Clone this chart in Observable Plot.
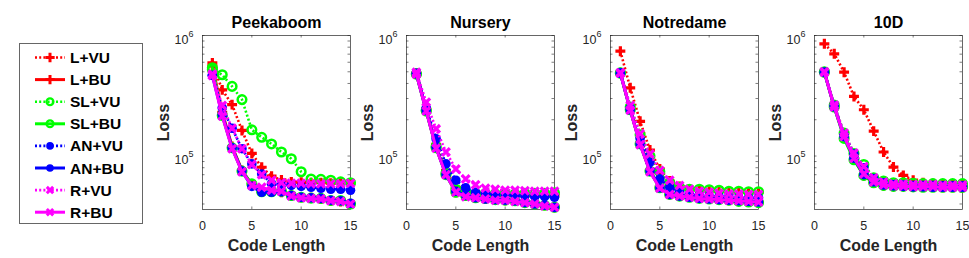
<!DOCTYPE html>
<html><head><meta charset="utf-8">
<script src="https://cdn.jsdelivr.net/npm/d3@7"></script>
<script src="https://cdn.jsdelivr.net/npm/@observablehq/plot@0.6"></script>
<style>
body{margin:0;background:#fff;}
#chart{position:relative;width:969px;height:258px;font-family:"Liberation Sans",Arial,sans-serif;}
#chart > svg{position:absolute;top:0;}
</style></head><body><div id="chart"></div>
<script>
const codeLength = [1,2,3,4,5,6,7,8,9,10,11,12,13,14,15];
const seriesNames = ["L+VU","L+BU","SL+VU","SL+BU","AN+VU","AN+BU","R+VU","R+BU"];
const datasetNames = ["Peekaboom","Nursery","Notredame","10D"];
const xTickValues = [0,5,10,15];
const yMajorTicks = [1e5,1e6];
const yMinorTicks = [4e4,5e4,6e4,7e4,8e4,9e4,2e5,3e5,4e5,5e5,6e5,7e5,8e5,9e5];

// rows follow seriesNames order
const peekaboom = [
  [593e3,354e3,267e3,163e3,105e3,80.7e3,68e3,63.4e3,61e3,60.5e3,60e3,60e3,59.5e3,59.5e3,59e3],
  [560e3,230e3,120e3,76e3,58e3,51e3,50.5e3,50e3,47e3,45.5e3,45e3,44e3,42.5e3,42e3,40e3],
  [522e3,472e3,378e3,294e3,165e3,143e3,126e3,108e3,95e3,74e3,64.5e3,64e3,63e3,61e3,60e3],
  [540e3,217e3,117e3,75e3,58.8e3,50.5e3,50.5e3,51e3,47e3,45.5e3,44.7e3,44.5e3,42.8e3,42.8e3,40e3],
  [466e3,251e3,170e3,115e3,86e3,71e3,59e3,58e3,57e3,56e3,55e3,54e3,53e3,53e3,52e3],
  [466e3,220e3,117e3,75e3,56e3,50e3,50e3,50.5e3,47e3,45.5e3,45e3,44.5e3,43e3,42.5e3,40.5e3],
  [480e3,262e3,170e3,115e3,85e3,70e3,63e3,60e3,59.5e3,59.5e3,59e3,59e3,59e3,59e3,59.5e3],
  [466e3,215e3,115e3,74e3,57e3,55e3,52e3,51e3,46.5e3,45e3,44.5e3,44e3,42.5e3,42e3,40e3]
];
const nursery = [
  [485e3,245e3,125e3,76e3,55e3,49e3,48e3,47.5e3,47e3,47e3,47e3,47e3,47e3,47e3,47e3],
  [480e3,238e3,118e3,71e3,50e3,47e3,45e3,44e3,43.5e3,43e3,43e3,41.5e3,40e3,39e3,37.6e3],
  [480e3,240e3,120e3,72e3,53e3,50e3,49e3,49e3,48.5e3,48.5e3,48.5e3,49e3,49e3,49e3,49.5e3],
  [478e3,236e3,117e3,70e3,50e3,47e3,45e3,44.5e3,43.5e3,43e3,42.5e3,41e3,40e3,39e3,37.6e3],
  [485e3,250e3,139e3,86e3,63e3,54.5e3,50e3,49e3,48e3,47.5e3,47e3,46.5e3,46e3,46e3,45.5e3],
  [480e3,238e3,118e3,70e3,51e3,47e3,45e3,44e3,43.5e3,43e3,42.5e3,41e3,40e3,39e3,37.5e3],
  [496e3,280e3,168e3,108e3,78e3,64.6e3,57.7e3,54e3,53e3,52e3,52e3,51.5e3,51e3,51e3,51e3],
  [478e3,236e3,116e3,70e3,50e3,46e3,45e3,44e3,43e3,43e3,42e3,41e3,40e3,38.5e3,37.5e3]
];
const notredame = [
  [741e3,368e3,194e3,112e3,78e3,62e3,56e3,53e3,52e3,51e3,51e3,50e3,50e3,50e3,50e3],
  [487e3,242e3,126e3,75e3,54.5e3,48e3,47e3,46e3,45e3,44e3,43.5e3,43e3,42.5e3,42e3,41.5e3],
  [490e3,255e3,150e3,100e3,74e3,60e3,55e3,53e3,53e3,52.5e3,52e3,51e3,51e3,50.5e3,50.5e3],
  [487e3,242e3,126e3,75e3,54.5e3,48e3,46.5e3,45.5e3,44.5e3,44e3,43.5e3,43e3,42e3,41.5e3,41e3],
  [487e3,250e3,140e3,89e3,64.6e3,55e3,50e3,48e3,47e3,46.5e3,46e3,45.5e3,45e3,45e3,45e3],
  [487e3,242e3,126e3,75e3,54.5e3,48e3,46.5e3,45.5e3,44.5e3,44e3,43.5e3,43e3,42.5e3,42e3,41.5e3],
  [490e3,262e3,153e3,104e3,76e3,63e3,57e3,53e3,51e3,50e3,49e3,48.5e3,48.5e3,48e3,48e3],
  [487e3,240e3,124e3,74e3,54e3,48e3,46.5e3,45.5e3,44.5e3,44e3,43.5e3,43e3,42.5e3,42e3,41.5e3]
];
const tenD = [
  [853e3,705e3,496e3,312e3,242e3,161e3,108e3,81e3,69e3,63e3,60e3,59e3,58.5e3,58e3,58e3],
  [496e3,255e3,145e3,95e3,69e3,60e3,57e3,56e3,56e3,55.5e3,55.5e3,55.5e3,55e3,55e3,55e3],
  [500e3,265e3,155e3,105e3,85e3,66e3,62e3,60e3,60e3,59.5e3,59e3,59e3,59e3,59e3,59e3],
  [496e3,255e3,140e3,93e3,69e3,60e3,57e3,56e3,56e3,55.5e3,55e3,55e3,55e3,55e3,55e3],
  [496e3,262e3,150e3,104e3,80e3,65e3,60e3,58e3,57.5e3,57e3,57e3,57e3,56.5e3,56.5e3,56.5e3],
  [496e3,256e3,145e3,96e3,70e3,61e3,57.5e3,56.5e3,56e3,55.5e3,55.5e3,55e3,55e3,55e3,55e3],
  [500e3,265e3,155e3,106e3,82e3,66e3,61e3,59e3,58.5e3,58e3,58e3,58e3,57.5e3,57.5e3,57.5e3],
  [496e3,255e3,145e3,96e3,71e3,61e3,57.5e3,56.5e3,56e3,55.5e3,55.5e3,55.5e3,55e3,55e3,55e3]
];
const datasetRows = [peekaboom, nursery, notredame, tenD];

// styles
const seriesColors = ["#ff0000","#ff0000","#00ff00","#00ff00","#0000ff","#0000ff","#ff00ff","#ff00ff"];
const seriesDotted = [true,false,true,false,true,false,true,false];
const seriesMarker = ["plus","plus","ring","ring","disc","disc","times","times"];
const AX = "#262626";
const FONT = "'Liberation Sans', Arial, sans-serif";
const FW = 148, FH = 174, ML = 56, MR = 7, MT = 35, H = 258;
const panelLefts = [146, 350, 554, 758];

function dotOpts(s) {
  const c = seriesColors[s];
  switch (seriesMarker[s]) {
    case "plus": return {symbol: "plus", r: 3.3, stroke: c, strokeWidth: 3.2, fill: "none"};
    case "ring": return {symbol: "circle", r: 4.3, stroke: c, strokeWidth: 2.5, fill: "none"};
    case "disc": return {symbol: "circle", r: 4.8, fill: c, stroke: "none"};
    default: return {symbol: "times", r: 3.6, stroke: c, strokeWidth: 3.2, fill: "none"};
  }
}

function panel(title, rows) {
  const data = rows.flatMap((vals, s) => vals.map((v, j) => ({s, x: codeLength[j], y: v})));
  const allY = yMinorTicks.concat(yMajorTicks);
  const marks = [
    Plot.frame({stroke: AX, strokeWidth: 0.7}),
    Plot.tickY(allY, {y: d => d, insetRight: FW - 2.5, stroke: AX, strokeWidth: 0.6}),
    Plot.tickY(allY, {y: d => d, insetLeft: FW - 2.5, stroke: AX, strokeWidth: 0.6}),
    Plot.tickX([5, 10], {x: d => d, insetTop: FH - 2.5, stroke: AX, strokeWidth: 0.6}),
    Plot.tickX([5, 10], {x: d => d, insetBottom: FH - 2.5, stroke: AX, strokeWidth: 0.6}),
    Plot.axisX({ticks: xTickValues, tickSize: 0, tickPadding: 12, label: null, fill: AX, fontSize: 12.5}),
    Plot.axisY({ticks: yMajorTicks, tickSize: 0, tickPadding: 9, label: null, fill: AX, fontSize: 12.5,
      tickFormat: d => "10^" + Math.round(Math.log10(d))}),
    Plot.text([title], {text: d => d, frameAnchor: "top", dy: -8, lineAnchor: "bottom", fontWeight: "bold", fontSize: 16, fill: "#000"}),
    Plot.text(["Code Length"], {text: d => d, frameAnchor: "bottom", dy: 30, lineAnchor: "top", fontWeight: "bold", fontSize: 16, fill: AX}),
    Plot.text(["Loss"], {text: d => d, frameAnchor: "left", dx: -39, rotate: -90, lineAnchor: "middle", textAnchor: "middle", fontWeight: "bold", fontSize: 16, fill: AX})
  ];
  seriesNames.forEach((name, s) => {
    const d = data.filter(r => r.s === s);
    const lineOpts = {x: "x", y: "y", stroke: seriesColors[s], strokeWidth: seriesDotted[s] ? 2.6 : 3};
    if (seriesDotted[s]) { lineOpts.strokeDasharray = "2,2.2"; lineOpts.strokeLinecap = "butt"; }
    marks.push(Plot.line(d, lineOpts));
    marks.push(Plot.dot(d, {x: "x", y: "y", ...dotOpts(s)}));
  });
  const svg = Plot.plot({
    width: ML + FW + MR, height: H,
    marginLeft: ML, marginRight: MR, marginTop: MT, marginBottom: H - MT - FH,
    x: {domain: [0, 15]},
    y: {type: "log", domain: [36000, 1e6]},
    style: {background: "transparent", overflow: "visible", fontSize: "12.5px", fontFamily: FONT, color: AX},
    marks
  });
  svg.querySelectorAll('g[aria-label="y-axis tick label"] text').forEach(t => {
    const m = /^10\^(\d+)$/.exec(t.textContent);
    if (!m) return;
    t.textContent = "";
    const ns = "http://www.w3.org/2000/svg";
    const a = document.createElementNS(ns, "tspan"); a.setAttribute("dy", "4"); a.textContent = "10";
    const b = document.createElementNS(ns, "tspan"); b.setAttribute("dy", "-7"); b.setAttribute("font-size", "9"); b.textContent = m[1];
    t.appendChild(a); t.appendChild(b);
  });
  return svg;
}

const chart = document.getElementById("chart");

// legend
const leg = d3.create("svg").attr("width", 126).attr("height", 183)
  .style("left", "18px").style("top", "42px");
leg.append("rect").attr("x", 1.5).attr("y", 1.5).attr("width", 123).attr("height", 180)
  .attr("fill", "#fff").attr("stroke", "#666").attr("stroke-width", 1);
seriesNames.forEach((name, s) => {
  const y = 15.5 + s * 22.1;
  const c = seriesColors[s];
  const g = leg.append("g");
  const ln = g.append("line").attr("x1", 17).attr("x2", 47).attr("y1", y).attr("y2", y)
    .attr("stroke", c).attr("stroke-width", seriesDotted[s] ? 2.6 : 3);
  if (seriesDotted[s]) ln.attr("stroke-dasharray", "2,2.2");
  const mk = seriesMarker[s];
  const p = g.append("path").attr("transform", `translate(32,${y})`);
  if (mk === "plus") p.attr("d", d3.symbol(d3.symbolPlus, Math.PI * 3.1 * 3.1)()).attr("stroke", c).attr("stroke-width", 3).attr("fill", "none");
  else if (mk === "ring") p.attr("d", d3.symbol(d3.symbolCircle, Math.PI * 3.4 * 3.4)()).attr("stroke", c).attr("stroke-width", 2.3).attr("fill", "none");
  else if (mk === "disc") p.attr("d", d3.symbol(d3.symbolCircle, Math.PI * 3.8 * 3.8)()).attr("fill", c);
  else p.attr("d", d3.symbol(d3.symbolTimes, Math.PI * 3 * 3)()).attr("stroke", c).attr("stroke-width", 3).attr("fill", "none");
  g.append("text").attr("x", 52).attr("y", y + 5.5).text(name)
    .attr("font-family", FONT).attr("font-weight", "bold").attr("font-size", 15.5).attr("fill", "#000");
});
chart.appendChild(leg.node());

datasetNames.forEach((name, i) => {
  const svg = panel(name, datasetRows[i]);
  svg.style.position = "absolute";
  svg.style.left = panelLefts[i] + "px";
  svg.style.top = "0px";
  chart.appendChild(svg);
});
</script></body></html>
